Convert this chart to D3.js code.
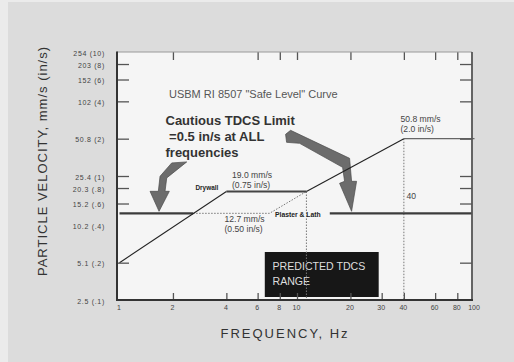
<!DOCTYPE html>
<html><head><meta charset="utf-8">
<script src="https://cdn.jsdelivr.net/npm/d3@7"></script>
<style>
html,body{margin:0;padding:0;background:#ebebeb;}
svg{display:block;font-family:"Liberation Sans",Arial,sans-serif;}
</style></head>
<body><svg id="c" width="514" height="362"></svg>
<script>
// ---- data (frequency Hz, particle velocity in/s) ----
const xTickLabels = [1, 2, 4, 6, 8, 10, 20, 30, 40, 60, 80, 100];
const xTicksBottom = [2, 4, 6, 8, 10, 20, 30, 40, 60, 80];
const xTicksTop = [2, 6, 8, 10, 20, 40, 60, 80];
const yLabelValues = [10, 8, 6, 4, 2, 1, 0.8, 0.6, 0.4, 0.2, 0.1];
const yLabelText = ["254 (10)", "203 (8)", "152 (6)", "102 (4)", "50.8 (2)", "25.4 (1)", "20.3 (.8)", "15.2 (.6)", "10.2 (.4)", "5.1 (.2)", "2.5 (.1)"];
const yTickValues = [8, 6, 4, 2, 1, 0.8, 0.6, 0.2];
const drywallLow = [[1, 0.2], [4, 0.75]];
const drywallPlateau = [[4, 0.75], [11.3, 0.75]];
const drywallHigh = [[11.3, 0.75], [40, 2.0]];
const highPlateau = [[40, 2.0], [100, 2.0]];
const plasterLath = [[2.6, 0.5], [7, 0.5], [11.3, 0.75]];
const cautiousLimit = 0.5;
const cautiousSegments = [[1, 2.6], [15.3, 100]];
const dropLines = [[11.3, 0.75], [40, 2.0]];
const arrowTargets = [[1.67, 0.5], [20.3, 0.5]];
const predictedRange = [6.5, 30];

const svg = d3.select("#c");
// background panels
svg.append("rect").attr("x", 8).attr("y", 2).attr("width", 506).attr("height", 360).attr("fill", "#dcdcdc");

const x = d3.scaleLog().domain([1, 100]).range([119.5, 474.5]);
const y = d3.scaleLog().domain([0.1, 10]).range([300, 52]);
const L = 117, R = 472, T = 52, B = 300;

svg.append("rect").attr("x", L).attr("y", T).attr("width", R - L).attr("height", B - T).attr("fill", "#f5f5f5");

// predicted range box
svg.append("rect").attr("x", x(predictedRange[0]) + 1).attr("y", 252).attr("width", x(predictedRange[1]) - x(predictedRange[0]) - 4).attr("height", 45).attr("fill", "#171717");
const bt = svg.append("text").attr("fill", "#dedede").attr("font-size", 10.6);
bt.append("tspan").attr("x", 272.5).attr("y", 269.5).text("PREDICTED TDCS");
bt.append("tspan").attr("x", 272.5).attr("y", 284.5).text("RANGE");

// drop lines (dotted)
dropLines.forEach(d => {
  svg.append("line").attr("x1", x(d[0])).attr("x2", x(d[0])).attr("y1", y(d[1])).attr("y2", B)
    .attr("stroke", "#777").attr("stroke-width", 1).attr("stroke-dasharray", "1.5,1.5");
});

// arrows (shape offsets relative to target point)
const arrowShapes = [
  [[12.7,-48.4],[27.7,-49.4],[7.7,-33.4],[6,-20],[10.3,-20],[0,0],[-9,-20],[-0.7,-20],[1,-35]],
  [[-66,-77],[-61,-81],[-2,-53],[0,-30],[5,-30],[0,0],[-12,-28],[-7,-30],[-9,-44],[-52,-68],[-65,-69]]
];
arrowTargets.forEach((t, i) => {
  const tx = x(t[0]), ty = y(t[1]) - 2;
  svg.append("path").attr("d", "M" + arrowShapes[i].map(p => [tx + p[0], ty + p[1]].join(",")).join("L") + "Z")
    .attr("fill", "#6c6c6c").attr("stroke", "#4a4a4a").attr("stroke-width", 0.7).attr("stroke-linejoin", "round");
});

const line = d3.line().x(d => x(d[0])).y(d => y(d[1]));
// cautious limit
cautiousSegments.forEach(s => {
  svg.append("line").attr("x1", Math.max(x(s[0]), L + 1)).attr("x2", Math.min(x(s[1]), R)).attr("y1", y(cautiousLimit)).attr("y2", y(cautiousLimit))
    .attr("stroke", "#3c3c3c").attr("stroke-width", 2.2);
});
svg.append("path").attr("d", line(plasterLath)).attr("fill", "none").attr("stroke", "#777").attr("stroke-width", 1).attr("stroke-dasharray", "1.5,1.5");
svg.append("path").attr("d", line(drywallLow)).attr("fill", "none").attr("stroke", "#222").attr("stroke-width", 1.1);
svg.append("path").attr("d", line(drywallPlateau)).attr("fill", "none").attr("stroke", "#444").attr("stroke-width", 2);
svg.append("path").attr("d", line(drywallHigh)).attr("fill", "none").attr("stroke", "#222").attr("stroke-width", 1.1);
svg.append("path").attr("d", line(highPlateau)).attr("fill", "none").attr("stroke", "#666").attr("stroke-width", 1.1);

// axes ticks
function styleAxis(g) { g.select(".domain").remove(); g.selectAll("line").attr("stroke", "#555").attr("stroke-width", 1.3); }
svg.append("g").attr("transform", `translate(${L},0)`).call(d3.axisLeft(y).tickValues(yTickValues).tickSize(-12).tickFormat("")).call(styleAxis);
svg.append("g").attr("transform", `translate(${R},0)`).call(d3.axisRight(y).tickValues(yTickValues).tickSize(-12).tickFormat("")).call(styleAxis);
svg.append("g").attr("transform", `translate(0,${B})`).call(d3.axisBottom(x).tickValues(xTicksBottom).tickSize(-7).tickFormat("")).call(styleAxis);
svg.append("g").attr("transform", `translate(0,${T})`).call(d3.axisTop(x).tickValues(xTicksTop).tickSize(-8).tickFormat("")).call(styleAxis);

// tick labels
const yl = svg.append("g").attr("transform", `translate(${L},1)`).call(d3.axisLeft(y).tickValues(yLabelValues).tickSize(0).tickPadding(12).tickFormat((d, i) => yLabelText[i]));
yl.select(".domain").remove();
yl.selectAll("text").attr("font-size", 7).attr("fill", "#444").attr("letter-spacing", 0.7).attr("font-family", "Liberation Sans, Arial, sans-serif");
const xl = svg.append("g").attr("transform", `translate(-1,${B})`).call(d3.axisBottom(x).tickValues(xTickLabels).tickSize(0).tickPadding(5).tickFormat(d3.format("d")));
xl.select(".domain").remove();
xl.selectAll("text").attr("font-size", 7).attr("fill", "#444").attr("font-family", "Liberation Sans, Arial, sans-serif");

// frame
svg.append("line").attr("x1", L).attr("x2", R).attr("y1", T).attr("y2", T).attr("stroke", "#999").attr("stroke-width", 1.2);
svg.append("line").attr("x1", R).attr("x2", R).attr("y1", T).attr("y2", B).attr("stroke", "#555").attr("stroke-width", 1.8);
svg.append("line").attr("x1", L).attr("x2", L).attr("y1", T - 0.5).attr("y2", B + 1).attr("stroke", "#333").attr("stroke-width", 2);
svg.append("line").attr("x1", L).attr("x2", R + 1).attr("y1", B).attr("y2", B).attr("stroke", "#333").attr("stroke-width", 2);

// annotations
svg.append("text").attr("x", 169).attr("y", 97.5).attr("font-size", 11).attr("fill", "#555").text('USBM RI 8507 "Safe Level" Curve');
const ct = svg.append("text").attr("font-size", 13).attr("font-weight", "bold").attr("fill", "#333");
ct.append("tspan").attr("x", 165.5).attr("y", 125).text("Cautious TDCS Limit");
ct.append("tspan").attr("x", 165.5).attr("y", 141).text(" =0.5 in/s at ALL");
ct.append("tspan").attr("x", 165.5).attr("y", 156.5).text("frequencies");

function twoLine(xp, y1, l1, l2, fs) {
  const t = svg.append("text").attr("font-size", fs).attr("fill", "#444");
  t.append("tspan").attr("x", xp).attr("y", y1).text(l1);
  t.append("tspan").attr("x", xp).attr("y", y1 + 10.5).text(l2);
}
twoLine(232, 177.5, "19.0 mm/s", "(0.75 in/s)", 8.6);
twoLine(224.5, 221.5, "12.7 mm/s", "(0.50 in/s)", 8.6);
twoLine(400.5, 121.5, "50.8 mm/s", "(2.0 in/s)", 8.6);
svg.append("text").attr("x", 406.5).attr("y", 199).attr("font-size", 8.6).attr("fill", "#444").text("40");
svg.append("text").attr("x", 195.5).attr("y", 190).attr("font-size", 6.4).attr("font-weight", "bold").attr("fill", "#222").text("Drywall");
svg.append("text").attr("x", 275).attr("y", 217).attr("font-size", 6.8).attr("font-weight", "bold").attr("fill", "#222").text("Plaster & Lath");

// axis titles
svg.append("text").attr("x", 285).attr("y", 337.5).attr("text-anchor", "middle").attr("font-size", 13).attr("letter-spacing", 2).attr("fill", "#333").text("FREQUENCY, Hz");
svg.append("text").attr("transform", "translate(47,161) rotate(-90)").attr("text-anchor", "middle").attr("font-size", 13).attr("letter-spacing", 1).attr("fill", "#333").text("PARTICLE VELOCITY, mm/s (in/s)");
</script></body></html>
